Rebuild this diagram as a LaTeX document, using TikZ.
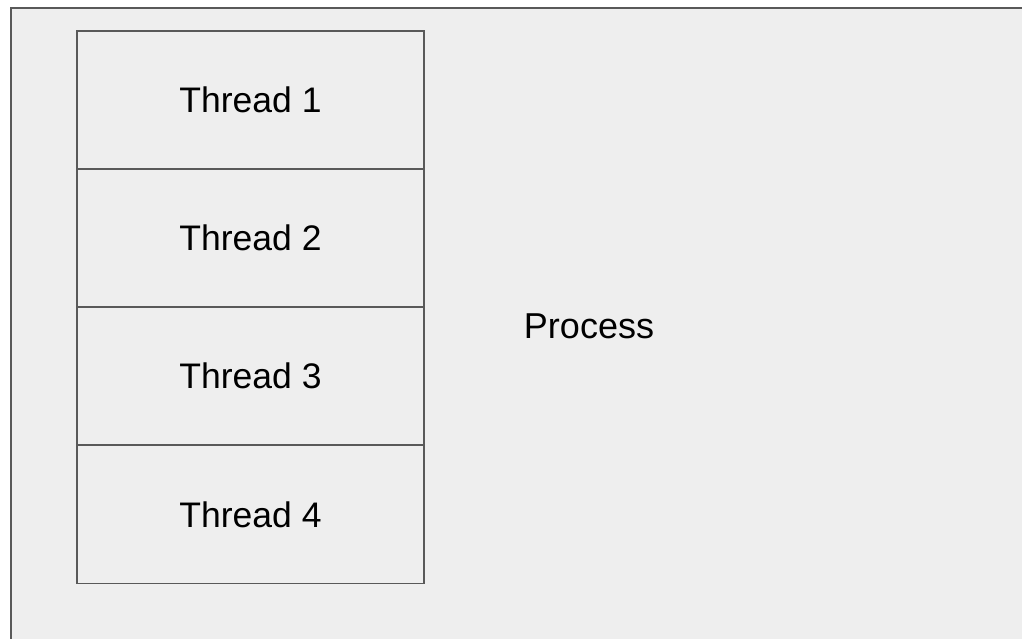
\documentclass[tikz,border=0pt]{standalone}
\usepackage{fontspec}
\setmainfont{Liberation Sans}
\definecolor{panel}{HTML}{EEEEEE}
\definecolor{edge}{HTML}{595959}
\begin{document}
\begin{tikzpicture}[x=1pt,y=-1pt,
  threadbox/.style={draw=edge,fill=panel,line width=1.5pt,
    minimum width=347pt,minimum height=138pt,inner sep=0pt,
    text height=25.5pt,text depth=0pt,
    font=\fontsize{35.5}{42}\selectfont},
  label/.style={inner sep=0pt,text height=25.5pt,text depth=0pt,
    font=\fontsize{36}{43}\selectfont}]
  \useasboundingbox (0,0) rectangle (1022,639);
  \clip (0,0) rectangle (1022,639);
  % process frame, running past the right and bottom edges
  \draw[draw=edge,fill=panel,line width=1.5pt] (11,8) rectangle (1060,680);
  % stacked threads
  \node[threadbox] (t1) at (250.5,100) {Thread 1};
  \node[threadbox] (t2) at (250.5,238) {Thread 2};
  \node[threadbox] (t3) at (250.5,376) {Thread 3};
  \node[threadbox] (t4) at (250.5,514.5) {Thread 4};
  \node[label] (p) at (589,326) {Process};
\end{tikzpicture}
\end{document}
